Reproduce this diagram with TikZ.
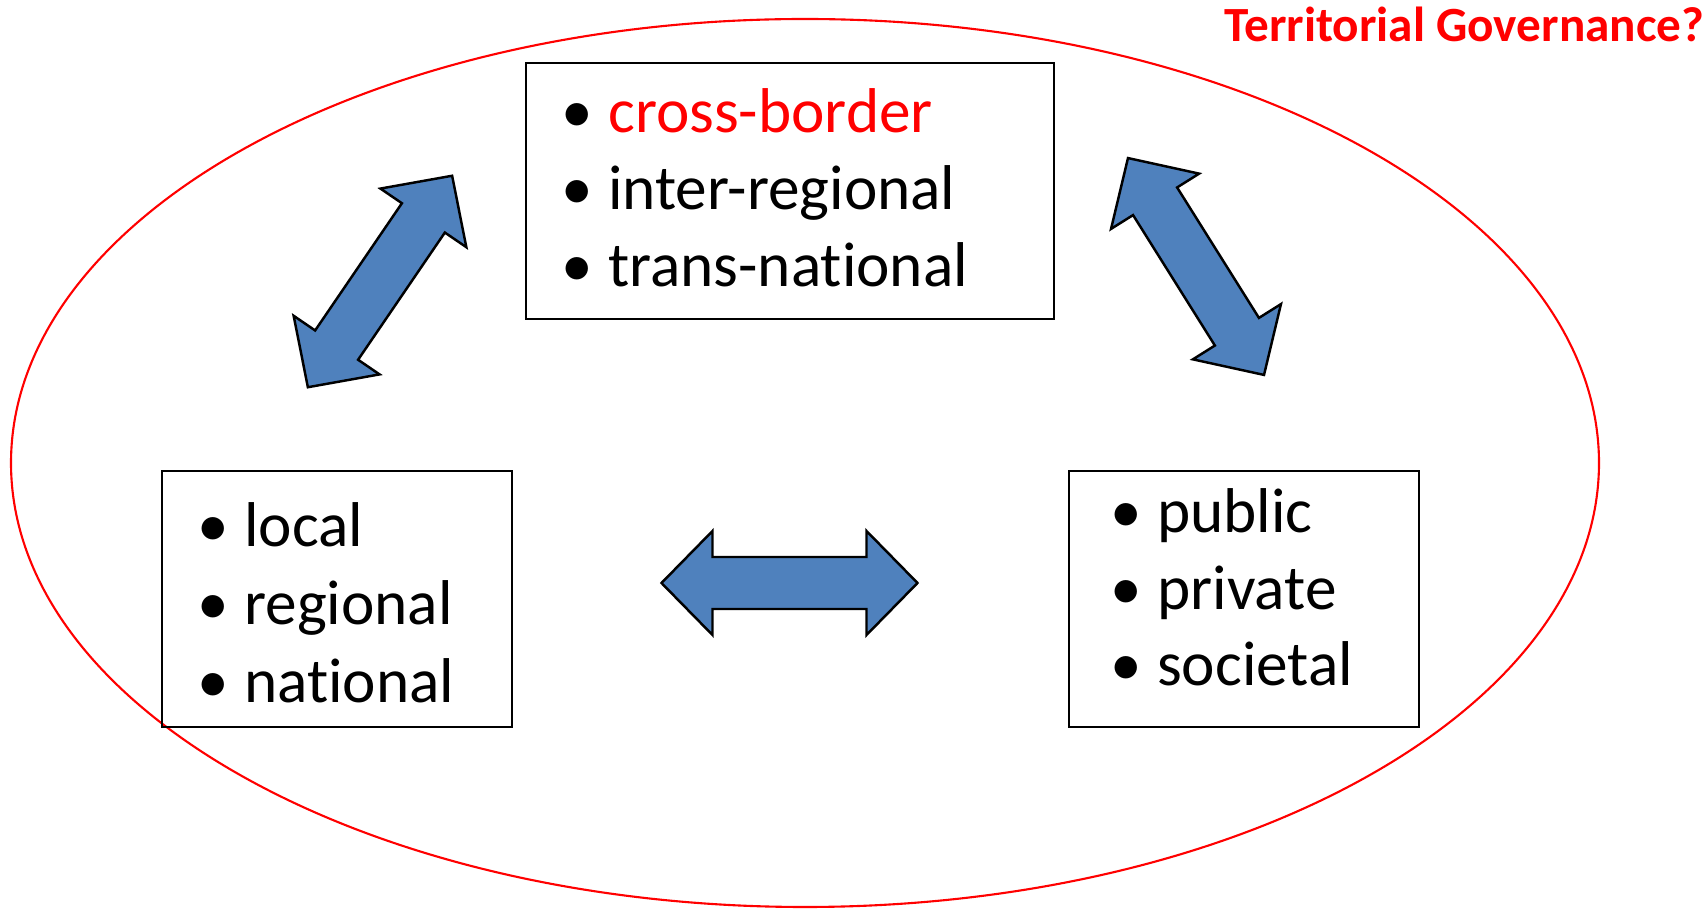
\documentclass[tikz,border=0pt]{standalone}
\usepackage{fontspec}
\setmainfont{Carlito}[Ligatures=NoCommon]
\usepackage{tikz}
\usetikzlibrary{calc}

\definecolor{arrowblue}{RGB}{79,129,189}

\tikzset{
  listbox/.style={draw, line width=0.8pt, minimum height=2.56cm, inner sep=0pt},
  item/.style={anchor=base west, inner sep=0pt, font=\fontsize{18}{22}\selectfont},
  twoway/.style={draw=black, line width=0.7pt, fill=arrowblue, line join=miter},
}
\newcommand{\blt}{\llap{\makebox[0.62cm][c]{\textbullet}}}

\begin{document}
\begin{tikzpicture}
\useasboundingbox (0,0) rectangle (17.08,9.09);

\newcommand{\dblarrow}[2]{%
  \draw [twoway, shift={#1}, rotate=#2] (-1.28,0) -- (-0.77,0.52) -- (-0.77,0.26)
    -- (0.77,0.26) -- (0.77,0.52) -- (1.28,0) -- (0.77,-0.52) -- (0.77,-0.26)
    -- (-0.77,-0.26) -- (-0.77,-0.52) -- cycle;}

% Outer ellipse and title
\draw [red, line width=0.6pt] (8.05,4.46) ellipse (7.94 and 4.44);
\node [anchor=base east, inner sep=0pt, text=red,
    font=\fontsize{14}{16}\selectfont\bfseries] (title) at (17.05,8.67)
    {Territorial Governance?};

% Boxes
\node [listbox, minimum width=5.28cm] (spatial) at (7.90,7.18) {};
\node [listbox, minimum width=3.50cm] (levels) at (3.37,3.10) {};
\node [listbox, minimum width=3.50cm] (actors) at (12.44,3.10) {};

% Items
\foreach \t/\c [count=\i] in {cross-border/red, inter-regional/black, trans-national/black}
  \node [item] (spatial-\i) at ($(spatial.north west)+(0.83,{-0.71-0.77*(\i-1)})$)
    {\blt\textcolor{\c}{\t}};
\foreach \t [count=\i] in {local, regional, national}
  \node [item] (levels-\i) at ($(levels.north west)+(0.83,{-0.77-0.78*(\i-1)})$)
    {\blt\t};
\foreach \t [count=\i] in {public, private, societal}
  \node [item] (actors-\i) at ($(actors.north west)+(0.89,{-0.63-0.765*(\i-1)})$)
    {\blt\t};

% Double arrows
\dblarrow{(3.80,6.275)}{55.7}
\dblarrow{(11.96,6.425)}{-57.9}
\dblarrow{(7.895,3.26)}{0}

\end{tikzpicture}
\end{document}
